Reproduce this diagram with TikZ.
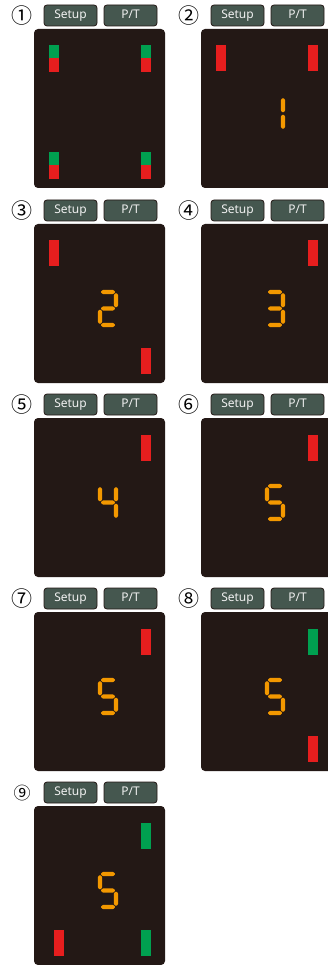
\documentclass[tikz,border=0pt]{standalone}
\usepackage{fontspec}
\setmainfont{Noto Sans}
\newfontfamily\circledfont{Noto Sans CJK JP}
\usepackage{xcolor}
\definecolor{PanelBlack}{HTML}{231815}
\definecolor{KeyGray}{HTML}{45574F}
\definecolor{KeyText}{HTML}{F0F0F0}
\definecolor{LedRed}{HTML}{E61E1E}
\definecolor{LedGreen}{HTML}{00A050}
\definecolor{SegOrange}{HTML}{F39800}

% seven segment pieces (local units: 1pt, y pointing down)
\newcommand{\lcdsega}{\pic at (10,2) {hseg};}
\newcommand{\lcdsegb}{\pic at (18,10.25) {vseg};}
\newcommand{\lcdsegc}{\pic at (18,26.75) {vseg};}
\newcommand{\lcdsegd}{\pic at (10,35) {hseg};}
\newcommand{\lcdsege}{\pic at (2,26.75) {vseg};}
\newcommand{\lcdsegf}{\pic at (2,10.25) {vseg};}
\newcommand{\lcdsegg}{\pic at (10,18.5) {hseg};}

\tikzset{
  pics/hseg/.style={code={\fill[SegOrange, rounded corners=0.8pt]
      (-7.4,0) -- (-5.2,-2.2) -- (5.2,-2.2) -- (7.4,0) -- (5.2,2.2) -- (-5.2,2.2) -- cycle;}},
  pics/vseg/.style={code={\fill[SegOrange, rounded corners=0.8pt]
      (0,-7.55) -- (2.2,-5.35) -- (2.2,5.35) -- (0,7.55) -- (-2.2,5.35) -- (-2.2,-5.35) -- cycle;}},
  pics/digit/.style={code={\foreach \s in {#1} {\csname lcdseg\s\endcsname}}},
}

\begin{document}
\begin{tikzpicture}[x=1pt, y=-1pt,
    key/.style={draw=PanelBlack, line width=0.8pt, fill=KeyGray, rounded corners=3pt,
      minimum width=53pt, minimum height=21pt, inner sep=0pt, text=KeyText,
      text height=7.2pt, text depth=1pt, font=\fontsize{12}{12}\selectfont},
    screen/.style={fill=PanelBlack, rounded corners=4pt, inner sep=0pt,
      minimum width=131pt, minimum height=159pt},
    badge/.style={inner sep=0pt},
    lamp/.style={fill=#1, inner sep=0pt, minimum width=10pt, minimum height=26pt},
    halflamp/.style={fill=#1, inner sep=0pt, minimum width=10pt, minimum height=13.5pt}]
  \useasboundingbox (0,0) rectangle (328,965);
  \clip (0,0) rectangle (328,965);

  % panels: number, keys and screen
  \foreach \n/\sx/\sy/\lab/\fs in {1/34/29/①/21, 2/201/29/②/21, 3/34/224/③/21,
      4/201/224/④/21, 5/34/418/⑤/21, 6/201/418/⑥/21, 7/34/612/⑦/21,
      8/201/612/⑧/21, 9/34/806/⑨/17} {
    \node[badge, font=\circledfont\fontsize{\fs}{\fs}\selectfont] (badge\n) at (\sx-12,\sy-13) {\lab};
    \node[key] (setup\n) at (\sx+36.5,\sy-13.5) {Setup};
    \node[key] (pt\n) at (\sx+96.5,\sy-13.5) {P/T};
    \node[screen] (screen\n) at (\sx+65.5,\sy+79.5) {};
  }

  % 1
  \node[halflamp=LedGreen] (lamp1ag) at (54,51.75) {};
  \node[halflamp=LedRed] (lamp1ar) at (54,65.25) {};
  \node[halflamp=LedGreen] (lamp1bg) at (146,51.75) {};
  \node[halflamp=LedRed] (lamp1br) at (146,65.25) {};
  \node[halflamp=LedGreen] (lamp1cg) at (54,158.75) {};
  \node[halflamp=LedRed] (lamp1cr) at (54,172.25) {};
  \node[halflamp=LedGreen] (lamp1dg) at (146,158.75) {};
  \node[halflamp=LedRed] (lamp1dr) at (146,172.25) {};
  % 2
  \node[lamp=LedRed] (lamp2a) at (221,58.5) {};
  \node[lamp=LedRed] (lamp2b) at (313,58.5) {};
  \pic at (265,95) {digit={b,c}};
  % 3
  \node[lamp=LedRed] (lamp3a) at (54,253.5) {};
  \node[lamp=LedRed] (lamp3d) at (146,360.5) {};
  \pic at (98,290) {digit={a,b,g,e,d}};
  % 4
  \node[lamp=LedRed] (lamp4b) at (313,253.5) {};
  \pic at (265,290) {digit={a,b,g,c,d}};
  % 5
  \node[lamp=LedRed] (lamp5b) at (146,447.5) {};
  \pic at (98,484) {digit={f,g,b,c}};
  % 6
  \node[lamp=LedRed] (lamp6b) at (313,447.5) {};
  \pic at (265,484) {digit={a,f,g,c,d}};
  % 7
  \node[lamp=LedRed] (lamp7b) at (146,641.5) {};
  \pic at (98,678) {digit={a,f,g,c,d}};
  % 8
  \node[lamp=LedGreen] (lamp8b) at (313,641.5) {};
  \node[lamp=LedRed] (lamp8d) at (313,748.5) {};
  \pic at (265,678) {digit={a,f,g,c,d}};
  % 9
  \node[lamp=LedGreen] (lamp9b) at (146,835.5) {};
  \node[lamp=LedRed] (lamp9c) at (59,942.5) {};
  \node[lamp=LedGreen] (lamp9d) at (146,942.5) {};
  \pic at (98,872) {digit={a,f,g,c,d}};
\end{tikzpicture}
\end{document}
